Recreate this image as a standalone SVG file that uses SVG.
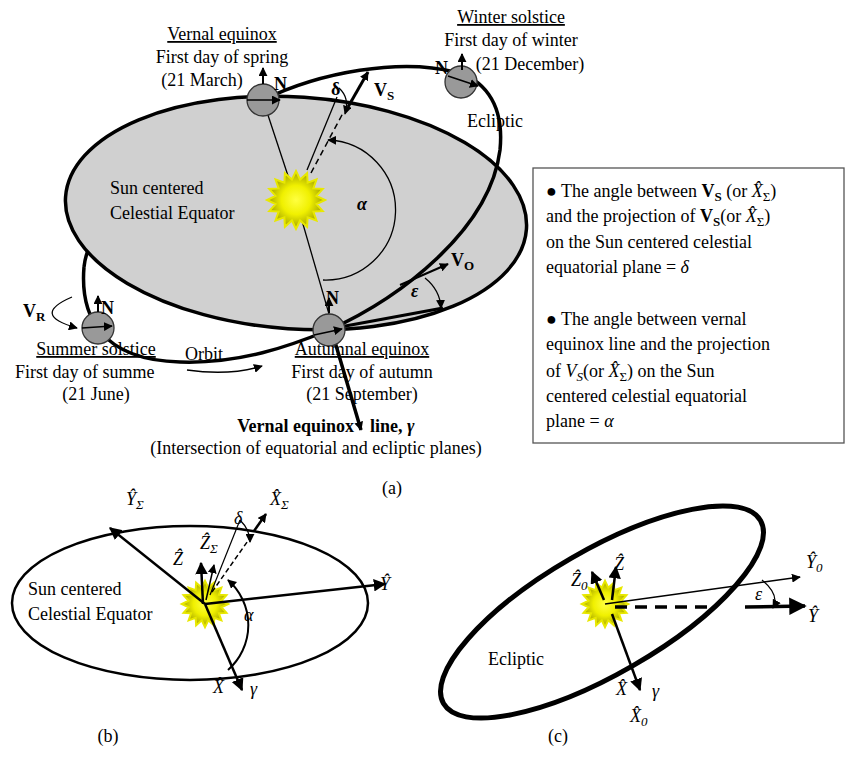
<svg xmlns="http://www.w3.org/2000/svg" width="850" height="758" viewBox="0 0 850 758">
<defs>
<radialGradient id="sg"><stop offset="0" stop-color="#ffff40"/><stop offset="0.5" stop-color="#f0f000"/><stop offset="1" stop-color="#a0a000"/></radialGradient>
<marker id="ah" viewBox="0 0 10 10" refX="9" refY="5" markerWidth="5" markerHeight="5" orient="auto-start-reverse" markerUnits="strokeWidth"><path d="M0,0 L10,5 L0,10 z" fill="#000"/></marker>
<marker id="as" viewBox="0 0 10 10" refX="9" refY="5" markerWidth="9" markerHeight="9" orient="auto" markerUnits="userSpaceOnUse"><path d="M0,0 L10,5 L0,10 z" fill="#000"/></marker>
<g id="sun"><polygon transform="scale(29)" vector-effect="non-scaling-stroke" fill="url(#sg)" stroke="#e8e800" stroke-width="2" points="1,0 .706,.140 .924,.383 .599,.400 .707,.707 .400,.599 .383,.924 .140,.706 0,1 -.140,.706 -.383,.924 -.400,.599 -.707,.707 -.599,.400 -.924,.383 -.706,.140 -1,0 -.706,-.140 -.924,-.383 -.599,-.400 -.707,-.707 -.400,-.599 -.383,-.924 -.140,-.706 0,-1 .140,-.706 .383,-.924 .400,-.599 .707,-.707 .599,-.400 .924,-.383 .706,-.140"/></g>
</defs>
<style>
text{font-family:"Liberation Serif","Times New Roman",serif;font-size:18px;fill:#000}
.c{text-anchor:middle}
.e{text-anchor:end}
.u{text-decoration:underline}
.b{font-weight:bold}
.i{font-style:italic}
.th{fill:none;stroke:#000;stroke-width:1.3}
.tk{fill:none;stroke:#000;stroke-width:3.5}
.md{fill:none;stroke:#000;stroke-width:2.5}
.gl{fill:#999;stroke:#333;stroke-width:1.3}
</style>
<rect width="850" height="758" fill="#fff"/>

<!-- panel a -->
<g id="orbit-back"><path class="tk" d="M263,100 C180,130 90,210 84,267"/></g>
<g id="equator"><ellipse cx="296" cy="213" rx="231" ry="116" transform="rotate(4 296 213)" fill="#d0d0d0" stroke="#000" stroke-width="3.5"/></g>
<g id="orbit"><path class="tk" d="M84,267 C80,315 100,360 180,362 C240,364 290,346 329,330 C400,298 490,230 500,150 C505,100 480,78 455,72 C400,58 320,72 263,100"/></g>

<g id="connectors">
<line class="th" x1="296" y1="200" x2="263" y2="100"/>
<line class="th" x1="296" y1="200" x2="329" y2="314"/>
<line class="th" x1="307" y1="170" x2="337" y2="97"/>
<line x1="311" y1="173" x2="343" y2="113" stroke="#000" stroke-width="1.5" stroke-dasharray="6,4"/>
<line x1="348" y1="107" x2="368" y2="72" stroke="#000" stroke-width="3" marker-end="url(#as)"/>
<path class="th" d="M339,88 Q350,98 345,114" marker-end="url(#as)"/>
<path class="th" d="M323,280 A70,70 0 0 0 328,140" marker-end="url(#as)"/>
<line x1="340" y1="327" x2="443" y2="308" stroke="#000" stroke-width="3"/>
<line x1="400" y1="285" x2="448" y2="264" stroke="#000" stroke-width="2" marker-end="url(#as)"/>
<path class="th" d="M425,278 Q440,290 441,308" marker-end="url(#as)"/>
<line x1="335" y1="342" x2="361" y2="430" stroke="#000" stroke-width="3.5" marker-end="url(#as)"/>
<path class="th" d="M72,297 Q30,315 77,328" marker-end="url(#as)"/>
<path class="th" d="M187,370 Q230,376 262,366" marker-end="url(#as)"/>
</g>

<g id="globe-vernal"><circle class="gl" cx="263" cy="100" r="16"/><line x1="247" y1="100" x2="280" y2="100" stroke="#000" stroke-width="1.5" marker-end="url(#as)"/><line x1="263" y1="84" x2="263" y2="68" stroke="#000" stroke-width="2" marker-end="url(#as)"/><text x="274" y="90" class="b">N</text></g>
<g id="globe-winter"><circle class="gl" cx="461" cy="82" r="16"/><line x1="448" y1="76" x2="478" y2="86" stroke="#000" stroke-width="1.5" marker-end="url(#as)"/><line x1="462" y1="70" x2="462" y2="54" stroke="#000" stroke-width="2" marker-end="url(#as)"/><text x="435" y="74" class="b">N</text></g>
<g id="globe-summer"><circle class="gl" cx="98" cy="328" r="16"/><line x1="82" y1="328" x2="112" y2="326" stroke="#000" stroke-width="1.5" marker-end="url(#as)"/><line x1="98" y1="312" x2="98" y2="296" stroke="#000" stroke-width="2" marker-end="url(#as)"/><text x="101" y="314" class="b">N</text></g>
<g id="globe-autumn"><circle class="gl" cx="329" cy="330" r="16"/><line x1="314" y1="335" x2="342" y2="329" stroke="#000" stroke-width="1.5" marker-end="url(#as)"/><line x1="329" y1="313" x2="329" y2="298" stroke="#000" stroke-width="2" marker-end="url(#as)"/><text x="326" y="304" class="b">N</text></g>
<use href="#sun" x="296" y="200"/>

<g id="labels-a">
<text x="222" y="40" class="c u">Vernal equinox</text>
<text x="222" y="63" class="c">First day of spring</text>
<text x="202" y="86" class="c">(21 March)</text>
<text x="511" y="23" class="c u">Winter solstice</text>
<text x="511" y="46" class="c">First day of winter</text>
<text x="530" y="70" class="c">(21 December)</text>
<text x="467" y="127">Ecliptic</text>
<text x="110" y="194">Sun centered</text>
<text x="110" y="219">Celestial Equator</text>
<text x="357" y="210" class="b i">α</text>
<text x="331" y="95" class="b">δ</text>
<text x="374" y="96" class="b" font-size="20">V<tspan font-size="13" dy="4">S</tspan></text>
<text x="451" y="266" class="b" font-size="20">V<tspan font-size="13" dy="4">O</tspan></text>
<text x="411" y="297" class="b i">ε</text>
<text x="23" y="317" class="b" font-size="20">V<tspan font-size="13" dy="4">R</tspan></text>
<text x="96" y="355" class="c u">Summer solstice</text>
<text x="15" y="378">First day of summe</text>
<text x="96" y="400" class="c">(21 June)</text>
<text x="185" y="360">Orbit</text>
<text x="362" y="355" class="c u">Autumnal equinox</text>
<text x="362" y="378" class="c">First day of autumn</text>
<text x="362" y="400" class="c">(21 September)</text>
<text x="354" y="432" class="e b" font-size="20">Vernal equinox</text>
<text x="370" y="432" class="b" font-size="20">line, <tspan class="i">γ</tspan></text>
<text x="316" y="454" class="c">(Intersection of equatorial and ecliptic planes)</text>
<text x="392" y="494" class="c">(a)</text>
</g>

<g id="infobox">
<rect x="533" y="168" width="311" height="275" fill="#fff" stroke="#555" stroke-width="1.3"/>
<text x="546" y="197">● The angle between <tspan class="b">V<tspan font-size="13" dy="4">S</tspan></tspan><tspan dy="-4"> (or </tspan><tspan class="i">X̂</tspan><tspan font-size="13" dy="4">Σ</tspan><tspan dy="-4">)</tspan></text>
<text x="546" y="222">and the projection of  <tspan class="b">V<tspan font-size="13" dy="4">S</tspan></tspan><tspan dy="-4">(or </tspan><tspan class="i">X̂</tspan><tspan font-size="13" dy="4">Σ</tspan><tspan dy="-4">)</tspan></text>
<text x="546" y="248">on the Sun centered celestial</text>
<text x="546" y="273">equatorial plane = <tspan class="i">δ</tspan></text>
<text x="546" y="325">● The angle between vernal</text>
<text x="546" y="350">equinox line and the projection</text>
<text x="546" y="377">of  <tspan class="i">V<tspan font-size="13" dy="4">S</tspan></tspan><tspan dy="-4">(or </tspan><tspan class="i">X̂</tspan><tspan font-size="13" dy="4">Σ</tspan><tspan dy="-4">) on the Sun</tspan></text>
<text x="546" y="402">centered celestial equatorial</text>
<text x="546" y="427">plane = <tspan class="i">α</tspan></text>
</g>

<!-- panel b -->
<g id="panel-b">
<ellipse cx="190" cy="603" rx="178" ry="77" fill="none" stroke="#000" stroke-width="2.5"/>
<use href="#sun" transform="translate(205 604) scale(0.8)"/>
<line class="md" x1="205" y1="604" x2="110" y2="528" marker-end="url(#ah)"/>
<line class="md" x1="205" y1="604" x2="385" y2="584" marker-end="url(#ah)"/>
<line class="md" x1="205" y1="604" x2="242" y2="690" marker-end="url(#ah)"/>
<line class="md" x1="203" y1="604" x2="201" y2="563" marker-end="url(#ah)"/>
<line x1="206" y1="600" x2="214" y2="565" stroke="#000" stroke-width="1.5" marker-end="url(#as)"/>
<line x1="210" y1="595" x2="240" y2="520" stroke="#000" stroke-width="1.2"/>
<line x1="212" y1="592" x2="252" y2="535" stroke="#000" stroke-width="1.5" stroke-dasharray="5,3"/>
<line x1="254" y1="531" x2="266" y2="514" stroke="#000" stroke-width="2.5" marker-end="url(#as)"/>
<path class="th" d="M240,520 Q250,530 250,542" marker-end="url(#as)"/>
<path d="M228,670 A60,60 0 0 0 228,580" fill="none" stroke="#000" stroke-width="2" marker-end="url(#as)"/>
<text x="28" y="595">Sun centered</text>
<text x="28" y="620">Celestial Equator</text>
<text x="126" y="505" class="i">Ŷ<tspan font-size="13" dy="4">Σ</tspan></text>
<text x="270" y="505" class="i">X̂<tspan font-size="13" dy="4">Σ</tspan></text>
<text x="234" y="524" class="i">δ</text>
<text x="200" y="549" class="i">Ẑ<tspan font-size="13" dy="4">Σ</tspan></text>
<text x="173" y="565" class="i">Ẑ</text>
<text x="380" y="590" class="i">Ŷ</text>
<text x="244" y="621" class="i">α</text>
<text x="213" y="693" class="i">X̂</text>
<text x="250" y="695" class="i">γ</text>
<text x="108" y="742" class="c">(b)</text>
</g>

<!-- panel c -->
<g id="panel-c">
<ellipse cx="602" cy="612" rx="183" ry="62" transform="rotate(-30 602 612)" fill="none" stroke="#000" stroke-width="5"/>
<use href="#sun" transform="translate(605 604) scale(0.8)"/>
<line x1="605" y1="604" x2="800" y2="577" stroke="#000" stroke-width="1.5" marker-end="url(#as)"/>
<line x1="615" y1="607" x2="715" y2="607" stroke="#000" stroke-width="3.5" stroke-dasharray="12,8"/>
<line x1="745" y1="607" x2="805" y2="606" stroke="#000" stroke-width="3.5" marker-end="url(#ah)"/>
<line class="md" x1="604" y1="600" x2="592" y2="572" marker-end="url(#ah)"/>
<line class="md" x1="612" y1="600" x2="616" y2="567" marker-end="url(#ah)"/>
<line class="md" x1="612" y1="614" x2="640" y2="690" marker-end="url(#ah)"/>
<path class="th" d="M762,580 Q780,595 773,608" marker-end="url(#as)"/>
<text x="614" y="570" class="i">Ẑ</text>
<text x="571" y="586" class="i">Ẑ<tspan font-size="13" dy="4">0</tspan></text>
<text x="806" y="568" class="i">Ŷ<tspan font-size="13" dy="4">0</tspan></text>
<text x="808" y="622" class="i">Ŷ</text>
<text x="755" y="600" class="i">ε</text>
<text x="488" y="665">Ecliptic</text>
<text x="616" y="695" class="i">X̂</text>
<text x="652" y="697" class="i">γ</text>
<text x="630" y="722" class="i">X̂<tspan font-size="13" dy="4">0</tspan></text>
<text x="558" y="742" class="c">(c)</text>
</g>
</svg>
